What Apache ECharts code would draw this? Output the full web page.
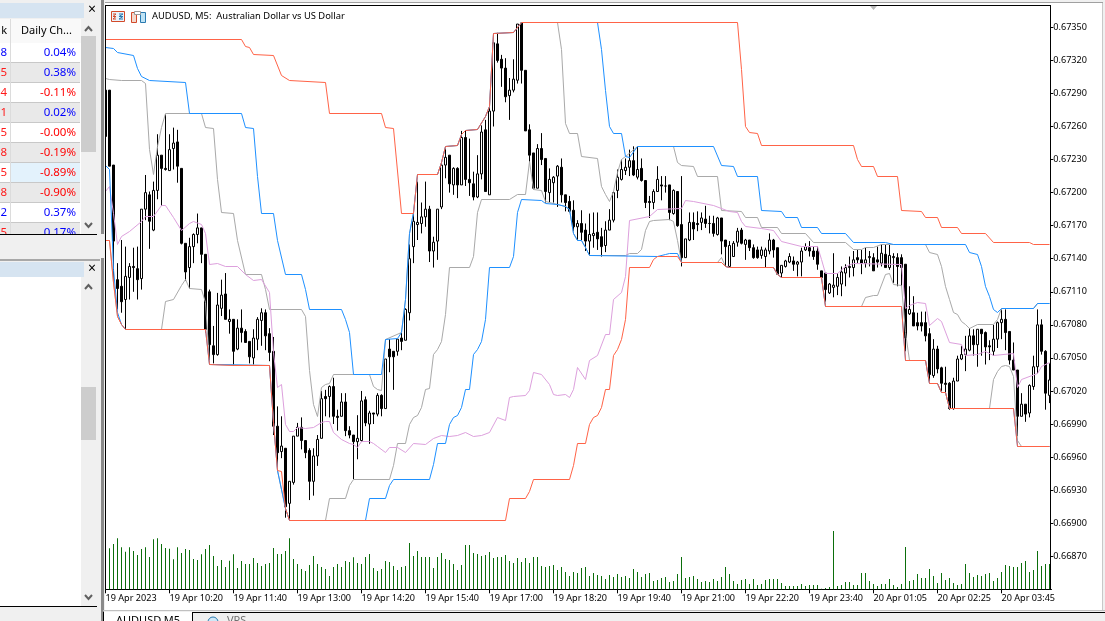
<!DOCTYPE html>
<html><head><meta charset="utf-8">
<style>html,body{margin:0;padding:0;background:#fff;overflow:hidden}#c{width:1105px;height:621px}</style>
<script src="https://cdn.jsdelivr.net/npm/echarts@6/dist/echarts.min.js"></script>
</head><body><div id="c"></div>
<script>
// Prices are kept in points (1 point = 0.00001)
const xTickLabels=["19 Apr 2023","19 Apr 10:20","19 Apr 11:40","19 Apr 13:00","19 Apr 14:20","19 Apr 15:40","19 Apr 17:00","19 Apr 18:20","19 Apr 19:40","19 Apr 21:00","19 Apr 22:20","19 Apr 23:40","20 Apr 01:05","20 Apr 02:25","20 Apr 03:45"];
const priceTicks=[66870,66900,66930,66960,66990,67020,67050,67080,67110,67140,67170,67200,67230,67260,67290,67320,67350];
const opens=[67293,67293,67225,67121,67115,67103,67123,67133,67131,67122,
67185,67198,67166,67202,67234,67222,67220,67240,67246,67222,
67154,67132,67151,67162,67168,67144,67110,67061,67053,67095,
67108,67083,67085,67058,67077,67074,67065,67050,67067,67084,
67091,67072,67056,66988,66965,66968,66918,66937,66979,66987,
66975,66966,66938,66961,66977,67015,67015,67024,66997,66997,
67010,66984,66980,66974,66975,67012,66990,67000,66999,67016,
67004,67058,67056,67056,67068,67066,67091,67151,67171,67172,
67178,67185,67147,67156,67187,67225,67234,67207,67222,67207,
67250,67212,67208,67196,67217,67257,67198,67274,67335,67321,
67313,67288,67293,67302,67354,67311,67257,67236,67204,67240,
67231,67200,67209,67215,67223,67198,67192,67184,67169,67172,
67166,67156,67161,67164,67160,67152,67166,67175,67202,67212,
67220,67223,67229,67214,67222,67211,67192,67191,67201,67207,
67206,67207,67181,67201,67171,67141,67157,67173,67172,67173,
67176,67172,67172,67162,67177,67157,67133,67142,67155,67166,
67153,67157,67150,67148,67143,67142,67147,67157,67150,67127,
67133,67137,67138,67135,67137,67148,67150,67147,67147,67129,
67127,67109,67114,67115,67117,67127,67132,67132,67141,67139,
67136,67141,67141,67139,67136,67144,67132,67141,67141,67141,
67135,67090,67091,67082,67082,67082,67072,67034,67058,67041,
67027,67027,67004,67029,67049,67053,67057,67070,67062,67076,
67073,67061,67056,67067,67082,67085,67074,67048,67039,66997,
67008,67000,67024,67042,67080,67056,67016];
const closes=[67251,67224,67156,67113,67101,67124,67133,67132,67121,67185,
67200,67174,67202,67234,67222,67221,67239,67245,67224,67154,
67128,67151,67162,67168,67144,67076,67062,67053,67098,67107,
67085,67085,67056,67077,67073,67064,67051,67068,67085,67091,
67070,67055,66988,66964,66970,66915,66938,66979,66987,66975,
66964,66938,66961,66976,67013,67013,67024,66997,66996,67010,
66984,66980,66974,66977,67011,66991,67000,66999,67016,67004,
67049,67051,67051,67067,67065,67094,67140,67174,67173,67178,
67185,67147,67155,67185,67225,67232,67208,67222,67207,67250,
67212,67209,67196,67217,67255,67201,67274,67336,67320,67313,
67287,67293,67303,67353,67311,67256,67234,67204,67240,67230,
67201,67212,67214,67224,67198,67191,67183,67169,67172,67164,
67156,67162,67163,67158,67151,67166,67175,67200,67214,67221,
67223,67229,67216,67221,67211,67191,67191,67201,67212,67206,
67206,67182,67202,67170,67141,67158,67173,67167,67171,67177,
67172,67172,67163,67177,67156,67151,67152,67154,67165,67154,
67157,67150,67141,67141,67148,67148,67157,67148,67126,67134,
67138,67142,67135,67137,67147,67151,67147,67142,67135,67123,
67112,67117,67116,67123,67128,67132,67133,67139,67139,67136,
67139,67142,67129,67137,67145,67132,67143,67142,67133,67132,
67068,67094,67079,67079,67079,67070,67035,67058,67040,67027,
67026,67004,67029,67049,67053,67058,67070,67062,67076,67072,
67060,67060,67067,67082,67085,67073,67048,67039,66997,67008,
66999,67025,67042,67080,67056,67018,67030];
const lows=[67251,67224,67118,67094,67091,67076,67103,67110,67103,67112,
67175,67149,67165,67194,67188,67220,67220,67221,67209,67153,
67120,67113,67136,67154,67136,67073,67048,67045,67052,67088,
67085,67072,67043,67057,67064,67064,67045,67044,67057,67061,
67057,67047,66980,66951,66959,66905,66902,66935,66979,66967,
66959,66921,66925,66952,66977,66997,66996,66990,66984,66997,
66979,66977,66940,66958,66974,66988,66972,66990,66997,66997,
67004,67037,67021,67052,67057,67066,67084,67136,67157,67163,
67169,67137,67132,67139,67185,67213,67200,67198,67195,67207,
67206,67197,67193,67195,67212,67201,67198,67260,67318,67296,
67282,67266,67291,67299,67299,67256,67227,67203,67204,67225,
67191,67191,67191,67187,67191,67183,67182,67165,67157,67157,
67147,67143,67150,67148,67142,67146,67166,67173,67195,67211,
67216,67215,67215,67212,67210,67186,67177,67185,67201,67193,
67200,67175,67180,67169,67133,67141,67156,67157,67165,67166,
67168,67163,67160,67161,67144,67133,67133,67142,67151,67153,
67139,67147,67140,67140,67140,67132,67144,67141,67126,67123,
67132,67136,67129,67124,67124,67147,67142,67139,67130,67123,
67101,67108,67105,67107,67106,67115,67123,67124,67136,67126,
67132,67133,67129,67132,67133,67132,67130,67118,67115,67115,
67056,67089,67079,67075,67074,67065,67029,67032,67036,67020,
67018,67003,67003,67029,67048,67038,67056,67052,67042,67052,
67044,67048,67052,67059,67067,67057,67044,67039,66979,66997,
66992,66996,67021,67036,67053,67003,67009];
const highs=[67293,67293,67225,67136,67157,67151,67136,67150,67151,67185,
67216,67201,67210,67253,67234,67271,67253,67259,67257,67222,
67154,67159,67163,67181,67168,67144,67112,67079,67109,67121,
67127,67094,67085,67085,67094,67076,67065,67076,67087,67095,
67094,67077,67069,67006,66997,66968,66938,66979,66991,66996,
66975,66968,66968,66980,67020,67021,67025,67032,67003,67018,
67018,66988,66980,66998,67020,67015,67002,67000,67018,67017,
67049,67067,67056,67067,67073,67095,67153,67182,67210,67191,
67210,67188,67160,67185,67228,67240,67234,67223,67223,67256,
67256,67249,67219,67234,67261,67266,67278,67336,67345,67325,
67322,67304,67321,67353,67354,67311,67262,67236,67244,67254,
67231,67222,67215,67225,67231,67198,67197,67193,67175,67184,
67172,67181,67182,67182,67168,67174,67185,67201,67221,67230,
67231,67239,67242,67242,67231,67211,67197,67203,67224,67215,
67215,67207,67203,67201,67215,67158,67182,67182,67183,67182,
67188,67179,67179,67178,67177,67157,67156,67156,67168,67168,
67158,67157,67153,67151,67151,67150,67163,67158,67150,67134,
67139,67145,67142,67138,67150,67154,67156,67151,67151,67129,
67127,67118,67145,67127,67133,67135,67142,67147,67148,67148,
67150,67147,67145,67151,67153,67153,67153,67145,67145,67144,
67135,67115,67106,67091,67092,67092,67077,67067,67061,67042,
67042,67028,67032,67052,67061,67070,67077,67076,67076,67076,
67074,67066,67080,67083,67094,67094,67074,67064,67039,67018,
67008,67026,67052,67094,67085,67057,67045];
const volumes=[120,123,136,153,126,113,126,115,103,121,126,97,150,153,136,124,122,90,126,109,121,118,91,88,105,121,133,100,70,88,67,86,105,64,85,76,76,94,79,70,76,79,124,106,106,115,153,91,76,61,55,73,100,76,67,61,40,67,76,67,85,82,96,79,
76,97,106,64,55,61,85,82,70,58,67,70,139,100,115,97,97,97,64,97,109,91,88,76,58,73,133,133,109,106,100,103,112,94,97,97,103,85,79,94,82,94,79,97,97,70,67,70,73,58,67,52,40,52,49,64,67,40,49,43,40,31,43,37,46,37,40,34,61,52,37,46,49,25,28,34,37,22,25,46,97,34,37,40,31,22,25,22,31,25,37,67,46,
25,16,28,31,16,31,13,16,28,31,31,31,19,10,10,10,10,16,10,13,13,13,2,4,7,175,10,13,22,22,13,13,49,49,25,16,10,16,16,31,13,7,16,127,25,28,46,34,34,61,40,19,49,28,34,19,13,16,76,49,37,43,40,46,49,25,34,52,73,70,67,67,79,85,52,58,115,70,76,76];
// [bar index, price in points], read at the corners of each line
const redUpper=[[0,67339],[34,67339],[35,67333],[36,67332],[37,67325],[42,67324],[44,67306],[46,67302],[55,67300],[56,67272],[69,67272],[70,67259],[72,67258],[74,67181],[77,67181],[78,67216],[83,67216],[84,67227],[85,67242],[88,67243],[89,67253],[90,67256],[93,67257],[95,67269],[96,67278],[97,67344],[102,67345],[104,67354],[158,67354],[159,67312],[160,67260],[161,67255],[163,67254],[164,67243],[187,67243],[188,67230],[189,67224],[192,67224],[193,67215],[198,67215],[199,67184],[204,67183],[205,67177],[208,67177],[209,67168],[213,67168],[214,67163],[220,67163],[222,67155],[231,67155],[232,67153],[236,67153]];
const redLower=[[0,67157],[1,67157],[2,67118],[3,67088],[4,67080],[5,67076],[25,67076],[26,67044],[32,67043],[41,67043],[42,66991],[43,66948],[44,66947],[45,66913],[46,66902],[100,66902],[101,66922],[105,66922],[106,66929],[107,66940],[116,66940],[117,66952],[118,66972],[120,66972],[121,66990],[122,66996],[123,66998],[124,67005],[125,67021],[126,67021],[127,67052],[128,67058],[129,67067],[130,67085],[131,67132],[136,67132],[137,67139],[138,67142],[143,67142],[144,67137],[154,67137],[155,67133],[156,67132],[167,67132],[168,67126],[169,67123],[179,67123],[180,67097],[199,67097],[200,67048],[205,67048],[206,67027],[208,67027],[209,67019],[210,67019],[211,67004],[227,67004],[228,66970],[236,66970]];
const blueUpper=[[0,67332],[2,67331],[3,67327],[7,67324],[8,67313],[9,67305],[11,67302],[20,67300],[21,67272],[34,67272],[35,67259],[37,67258],[38,67215],[39,67181],[42,67181],[43,67157],[45,67126],[49,67126],[50,67112],[51,67094],[59,67094],[60,67085],[61,67073],[62,67035],[69,67035],[70,67067],[73,67068],[74,67073],[75,67103],[76,67163],[77,67182],[78,67216],[83,67216],[84,67227],[85,67242],[88,67243],[89,67253],[90,67256],[93,67257],[95,67269],[96,67278],[97,67344],[102,67345],[104,67354],[123,67354],[124,67330],[125,67293],[126,67260],[127,67254],[129,67254],[130,67233],[131,67232],[133,67242],[152,67242],[154,67225],[157,67224],[158,67215],[163,67215],[164,67184],[169,67183],[170,67177],[173,67177],[174,67168],[178,67168],[179,67163],[185,67163],[187,67155],[195,67155],[197,67153],[215,67153],[216,67146],[218,67144],[219,67133],[220,67115],[221,67106],[222,67094],[223,67091],[224,67095],[232,67095],[233,67099],[236,67099]];
const blueLower=[[0,67225],[1,67221],[2,67130],[3,67091],[4,67080],[5,67076],[25,67076],[26,67044],[41,67043],[42,66991],[43,66948],[45,66913],[46,66902],[65,66902],[66,66922],[70,66922],[71,66934],[72,66940],[81,66940],[82,66953],[83,66972],[85,66972],[86,66990],[87,66996],[88,66998],[89,67005],[90,67021],[91,67021],[92,67053],[93,67058],[94,67065],[95,67085],[96,67132],[101,67132],[102,67142],[103,67182],[104,67194],[109,67193],[110,67190],[113,67189],[115,67187],[116,67185],[117,67163],[118,67157],[119,67157],[120,67150],[121,67143],[138,67142],[140,67144],[141,67145],[143,67145],[144,67137],[154,67137],[155,67133],[156,67132],[167,67132],[168,67126],[169,67123],[179,67123],[180,67097],[199,67097],[200,67048],[205,67048],[206,67027],[208,67027],[209,67019],[210,67019],[211,67004],[227,67004],[228,66970],[236,66970]];
const grayUpper=[[0,67304],[1,67303],[4,67302],[9,67302],[10,67299],[11,67239],[12,67216],[13,67242],[14,67259],[15,67272],[24,67272],[25,67259],[27,67258],[28,67212],[29,67182],[32,67181],[33,67157],[35,67126],[39,67126],[40,67112],[41,67094],[49,67094],[50,67088],[51,67039],[52,67008],[53,66997],[54,67023],[55,67026],[56,67027],[57,67035],[66,67035],[67,67024],[68,67021],[69,67020],[70,67067],[74,67073],[75,67103],[76,67163],[77,67182],[78,67216],[83,67216],[84,67227],[85,67242],[88,67243],[89,67253],[90,67256],[93,67257],[95,67269],[96,67278],[97,67344],[102,67345],[104,67354],[113,67354],[114,67330],[115,67263],[116,67254],[118,67254],[119,67233],[123,67231],[124,67206],[125,67198],[126,67192],[127,67201],[128,67218],[129,67230],[130,67233],[133,67242],[142,67242],[143,67227],[144,67225],[147,67224],[148,67215],[153,67215],[154,67184],[159,67183],[160,67177],[163,67177],[164,67168],[168,67168],[169,67163],[175,67163],[177,67155],[185,67155],[187,67148],[189,67148],[190,67150],[192,67150],[194,67153],[205,67153],[206,67146],[208,67144],[209,67133],[210,67115],[211,67103],[212,67091],[213,67089],[214,67083],[215,67080],[216,67077],[218,67080],[222,67080],[223,67085],[224,67095],[232,67095],[233,67099],[236,67099]];
const grayLower=[[0,67157],[1,67157],[2,67118],[3,67088],[4,67080],[5,67076],[14,67076],[15,67101],[17,67103],[19,67116],[20,67121],[21,67113],[24,67112],[25,67100],[26,67044],[41,67043],[42,66991],[43,66948],[45,66913],[46,66902],[55,66902],[56,66922],[60,66922],[61,66934],[62,66940],[71,66940],[72,66952],[73,66972],[75,66972],[76,66990],[77,66996],[78,66998],[79,67005],[80,67021],[81,67022],[82,67053],[83,67058],[84,67065],[85,67089],[86,67132],[91,67132],[92,67142],[93,67182],[94,67194],[101,67194],[103,67198],[105,67198],[106,67228],[107,67203],[109,67202],[110,67192],[113,67189],[115,67187],[116,67185],[117,67163],[118,67157],[119,67157],[120,67150],[121,67143],[130,67143],[131,67145],[133,67145],[134,67148],[135,67166],[136,67174],[137,67175],[141,67176],[142,67174],[143,67157],[144,67137],[153,67137],[154,67141],[155,67133],[156,67132],[167,67132],[168,67126],[169,67123],[179,67123],[180,67097],[189,67097],[190,67105],[192,67107],[193,67107],[195,67126],[196,67127],[197,67117],[199,67116],[200,67073],[201,67048],[205,67048],[206,67027],[208,67027],[209,67019],[210,67019],[211,67004],[221,67004],[222,67030],[223,67038],[224,67042],[225,67043],[226,67042],[227,67033],[228,66975],[229,66970],[236,66970]];
const plumMiddle=[[0,67201],[1,67206],[2,67181],[3,67153],[4,67160],[6,67165],[9,67174],[10,67178],[12,67178],[14,67188],[15,67188],[17,67177],[19,67166],[21,67172],[22,67174],[24,67171],[25,67163],[26,67135],[28,67136],[30,67133],[33,67133],[35,67126],[37,67120],[39,67121],[41,67109],[42,67055],[43,67023],[44,67026],[45,66990],[46,66983],[47,66983],[48,66987],[50,66986],[52,66987],[54,66991],[55,66992],[56,66992],[57,66982],[59,66976],[61,66972],[62,66971],[63,66969],[64,66974],[66,66974],[67,66972],[68,66970],[70,66964],[71,66969],[73,66969],[75,66964],[77,66972],[80,66971],[82,66977],[84,66980],[86,66979],[88,66980],[90,66982],[92,66979],[94,66980],[96,66982],[98,66996],[100,66993],[101,67014],[102,67015],[105,67016],[106,67020],[107,67037],[109,67035],[111,67026],[112,67017],[113,67016],[115,67017],[116,67014],[117,67021],[118,67041],[120,67030],[121,67048],[123,67052],[125,67071],[126,67071],[127,67103],[129,67109],[130,67124],[131,67175],[136,67178],[138,67185],[144,67186],[145,67193],[147,67192],[152,67188],[156,67183],[158,67182],[159,67174],[160,67169],[164,67167],[167,67166],[169,67156],[174,67151],[178,67151],[179,67139],[180,67127],[183,67127],[185,67133],[187,67136],[199,67135],[200,67095],[201,67098],[203,67100],[205,67099],[206,67079],[208,67086],[209,67083],[211,67064],[214,67062],[215,67052],[218,67053],[220,67056],[222,67052],[227,67054],[228,67023],[229,67030],[233,67036],[234,67042],[236,67046]];
const rowPct=["0.04%","0.38%","-0.11%","0.02%","-0.00%","-0.19%","-0.89%","-0.90%","0.37%","0.17%"];
const rowAsk=["8","5","4","1","5","8","75","8","02","5"];

const GRID_TOP=5.3, GRID_H=584, AX_MIN=66840, AX_MAX=67370;
// nudges a line value to the centre of its pixel row so flat stretches stay crisp like the terminal's 1px lines
const crisp=pairs=>pairs.map(([i,p])=>{
  const k=GRID_H/(AX_MAX-AX_MIN), y=GRID_TOP+(AX_MAX-p)*k;
  return [i,AX_MAX-(Math.floor(y)+0.5-GRID_TOP)/k];
});
const categories=opens.map((_,i)=>i%16===0?xTickLabels[i/16]:'');
const candles=opens.map((o,i)=>[o,closes[i],lows[i],highs[i]]);
const FONT='"Noto Sans",sans-serif';
const Z=100;
const rect=(x,y,w,h,fill,z)=>({type:'rect',silent:true,z:z||Z,shape:{x,y,width:w,height:h},style:{fill}});
const stroked=(x,y,w,h,stroke,fill)=>({type:'rect',silent:true,z:Z+3,shape:{x:x+.5,y:y+.5,width:w,height:h},style:{fill:fill||'none',stroke,lineWidth:1}});
const txt=(x,y,s,fill,size,align,z)=>({type:'text',silent:true,z:z||Z+2,style:{x,y,text:s,fill,font:size+'px '+FONT,textAlign:align||'left',textVerticalAlign:'middle'}});
const poly=(pts,fill,z)=>({type:'polygon',silent:true,z:z||Z+2,shape:{points:pts},style:{fill}});
const pline=(pts,stroke,w,z)=>({type:'polyline',silent:true,z:z||Z+2,shape:{points:pts},style:{stroke,lineWidth:w||1,fill:'none'}});
const chrome=[];
// frame and margins around the plot
chrome.push(rect(0,0,105,621,'#f0f0f0'));
chrome.push(rect(105,0,1000,5,'#ffffff'));
chrome.push(rect(105,0,1000,2,'#f0f0f0'));
chrome.push(rect(105,2,1000,1,'#a0a0a0'));
chrome.push(rect(105,5,945,1,'#000000',Z+1));
chrome.push(rect(105,5,1,584,'#000000',Z+1));
chrome.push(rect(101,0,3,621,'#8a8a8a',Z+1));
chrome.push(rect(1103,0,2,621,'#f0f0f0'));
chrome.push(rect(1102,3,1,607,'#c8c8c8'));
chrome.push(rect(103,610,1002,11,'#f0f0f0'));
chrome.push(rect(103,610,1002,1,'#c0c0c0',Z+1));
chrome.push(rect(103,612,1002,1,'#000000',Z+1));
chrome.push(poly([[870,6],[877,6],[873.5,10]],'#b8b8b8'));
// upper panel
chrome.push(rect(0,3,84,15,'#d6e4f1',Z+1));
chrome.push(txt(92,10,'×','#000',14,'center'));
chrome.push(rect(0,19,81,24,'#f9f9f9',Z+1));
chrome.push(rect(0,43,81,192,'#ffffff',Z+1));
chrome.push(txt(7,31,'k','#000',11,'right'));
chrome.push(txt(21,31,'Daily Ch...','#000',11,'left'));
rowPct.forEach((s,i)=>{
  const y=43+20*i, odd=i%2===1;
  if(odd) chrome.push(rect(0,y,80,20,'#e9e9e9',Z+1));
  if(i===6) chrome.push(rect(11,y,69,20,'#e3f2fc',Z+1));
  chrome.push(rect(0,y+19,80,1,'#c8c8c8',Z+1));
  const c=s[0]==='-'?'#ff0000':'#0000ff';
  chrome.push(txt(7,y+10,rowAsk[i],i===8||i===0?'#0000ff':'#ff1a1a',11.5,'right'));
  chrome.push(txt(76,y+10,s,c,11.5,'right'));
});
chrome.push(rect(10,19,1,215,'#dcdcdc',Z+1));
chrome.push(rect(0,234,105,24,'#f0f0f0',Z+3));
chrome.push(rect(0,234,97,1,'#000000',Z+4));
chrome.push(rect(81,19,15,215,'#f0f0f0',Z+1));
chrome.push(rect(81,36,15,116,'#cdcdcd',Z+2));
chrome.push(pline([[85,31],[88.5,27],[92,31]],'#606060',2));
chrome.push(pline([[85,223],[88.5,227],[92,223]],'#606060',2));
chrome.push(rect(0,259,100,2,'#a8a8a8',Z+2));
// lower panel
chrome.push(rect(0,262,84,15,'#d6e4f1',Z+1));
chrome.push(txt(92,269,'×','#000',14,'center'));
chrome.push(rect(0,277,81,329,'#ffffff',Z+1));
chrome.push(rect(81,277,15,329,'#f0f0f0',Z+1));
chrome.push(rect(81,387,15,53,'#cdcdcd',Z+2));
chrome.push(pline([[85,289],[88.5,285],[92,289]],'#606060',2));
chrome.push(pline([[85,595],[88.5,599],[92,595]],'#606060',2));
chrome.push(rect(0,606,97,1,'#000000',Z+2));
// chart toolbar icons and title
chrome.push(stroked(111,11,13,10,'#d24a2a','#eaf3fb'));
chrome.push(pline([[113,14],[116,14],[113,16.5],[116,16.5],[113,19],[116,19]],'#d24a2a',1,Z+4));
chrome.push(pline([[119,14],[123,14],[119,16.5],[123,16.5],[119,19],[123,19]],'#2a7ab0',1,Z+4));
chrome.push(stroked(131,12,5,10,'#d24a2a','#f3d8cc'));
chrome.push(stroked(140,12,5,10,'#2a7ab0','#bfe3f5'));
chrome.push(stroked(134,11,6,3,'#9a9a9a','#ffffff'));
chrome.push(txt(152,16.5,'AUDUSD, M5:  Australian Dollar vs US Dollar','#000',9.4,'left'));
// tabs
chrome.push(rect(103,612,90,9,'#ffffff',Z+2));
chrome.push(rect(103,612,1,9,'#000000',Z+3));
chrome.push(rect(192,612,1,9,'#000000',Z+3));
chrome.push(txt(116,621,'AUDUSD,M5','#000',11,'left',Z+4));
chrome.push(txt(227,621,'VPS','#707070',11,'left',Z+4));
chrome.push({type:'circle',silent:true,z:Z+4,shape:{cx:213,cy:622,r:5},style:{fill:'#cfe8f7',stroke:'#2a7ab0',lineWidth:1}});

const lineSeries=(data,color,z)=>({type:'line',data:crisp(data),showSymbol:false,symbol:'none',smooth:false,z,animation:false,lineStyle:{color,width:1},itemStyle:{color},emphasis:{disabled:true},silent:true});
const chart=echarts.init(document.getElementById('c'),null,{renderer:'canvas'});
chart.setOption({
  animation:false,
  backgroundColor:'#ffffff',
  grid:{left:103.5,top:GRID_TOP,width:948,height:GRID_H,containLabel:false},
  tooltip:{show:false},
  legend:{show:false},
  xAxis:{type:'category',data:categories,boundaryGap:true,
    axisLine:{show:true,lineStyle:{color:'#000',width:1}},
    axisTick:{show:true,alignWithLabel:true,interval:15,length:4,lineStyle:{color:'#000'}},
    axisLabel:{show:true,interval:15,align:'left',margin:5,color:'#000',fontSize:9.1,fontFamily:FONT},
    splitLine:{show:false}},
  yAxis:[{type:'value',position:'right',min:AX_MIN,max:AX_MAX,offset:-1.2,scale:true,
      axisLine:{show:true,onZero:false,lineStyle:{color:'#000',width:1}},
      axisTick:{show:true,length:3,lineStyle:{color:'#000'},customValues:priceTicks},
      axisLabel:{show:true,margin:3,color:'#000',fontSize:9.1,fontFamily:FONT,customValues:priceTicks,formatter:v=>(v/100000).toFixed(5)},
      splitLine:{show:false}},
    {type:'value',min:0,max:1752,show:false,splitLine:{show:false}}],
  series:[
    {type:'bar',yAxisIndex:1,data:volumes,barWidth:1,z:1,itemStyle:{color:'#0b6e0b'},silent:true,animation:false},
    {type:'candlestick',data:candles,barWidth:3,z:2,silent:true,animation:false,
      itemStyle:{color:'#ffffff',color0:'#000000',borderColor:'#000000',borderColor0:'#000000',borderWidth:1}},
    lineSeries(grayUpper,'#A9A9A9',3),
    lineSeries(grayLower,'#A9A9A9',3),
    lineSeries(plumMiddle,'#DDA0DD',4),
    lineSeries(blueUpper,'#1E90FF',5),
    lineSeries(blueLower,'#1E90FF',5),
    lineSeries(redUpper,'#FF6347',6),
    lineSeries(redLower,'#FF6347',6)
  ],
  graphic:{elements:chrome}
});
</script></body></html>
